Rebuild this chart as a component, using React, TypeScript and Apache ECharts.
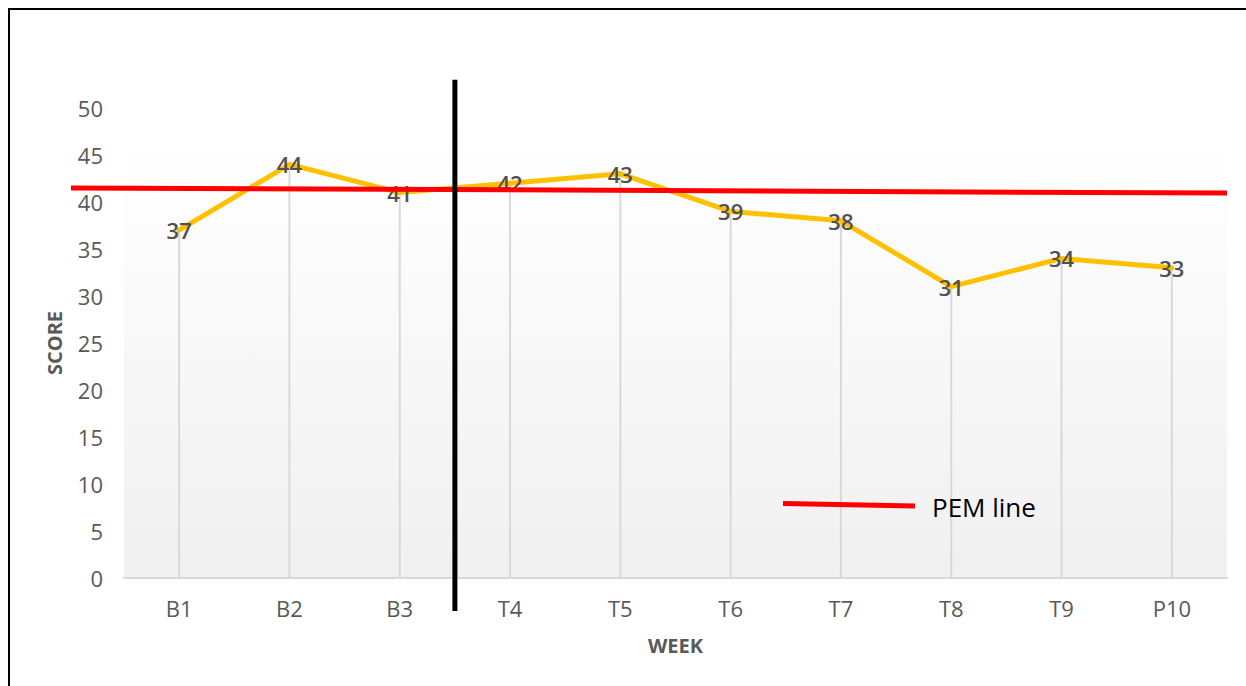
import React, { useEffect, useRef } from 'react';
import * as echarts from 'echarts';

const weeks = ['B1', 'B2', 'B3', 'T4', 'T5', 'T6', 'T7', 'T8', 'T9', 'P10'];
const scores = [37, 44, 41, 42, 43, 39, 38, 31, 34, 33];
const yMin = 0;
const yMax = 50;
const yStep = 5;
const pemValues = [41.5, 40.95]; // PEM line value at its left and right ends
const dividerValues = [53, -3.5]; // phase divider top and bottom (in score units)
const pemLabel = 'PEM line';
const xTitle = 'WEEK';
const yTitle = 'SCORE';

const FONT = '"Open Sans", "Noto Sans", sans-serif';

export default function App() {
  const ref = useRef<HTMLDivElement>(null);
  useEffect(() => {
    if (!ref.current) return;
    const chart = echarts.init(ref.current, null, { renderer: 'svg' });
    const gridLeft = 124;
    const gridRight = 19;
    const gridTop = 108;
    const gridBottom = 108;
    chart.setOption({
      animation: false,
      textStyle: { fontFamily: FONT },
      grid: {
        left: gridLeft,
        right: gridRight,
        top: gridTop,
        bottom: gridBottom,
        show: true,
        borderWidth: 0,
        backgroundColor: new echarts.graphic.LinearGradient(0, 0, 0, 1, [
          { offset: 0, color: '#ffffff' },
          { offset: 0.13, color: '#fefefe' },
          { offset: 1, color: '#f0f0f0' },
        ]),
      },
      xAxis: {
        type: 'category',
        data: weeks,
        name: xTitle,
        nameLocation: 'middle',
        nameGap: 57,
        nameTextStyle: { color: '#595959', fontSize: 20, fontWeight: 'bold', fontFamily: FONT },
        axisLine: { lineStyle: { color: '#d9d9d9', width: 2 } },
        axisTick: { show: false },
        axisLabel: { color: '#595959', fontSize: 22, margin: 19, fontFamily: FONT },
        splitLine: { show: false },
      },
      yAxis: {
        type: 'value',
        min: yMin,
        max: yMax,
        interval: yStep,
        name: yTitle,
        nameLocation: 'middle',
        nameGap: 60,
        nameTextStyle: { color: '#595959', fontSize: 20, fontWeight: 'bold', fontFamily: FONT },
        axisLine: { show: false },
        axisTick: { show: false },
        splitLine: { show: false },
        axisLabel: { color: '#595959', fontSize: 22, margin: 21, fontFamily: FONT },
      },
      series: [
        {
          type: 'bar',
          data: scores,
          barWidth: 2,
          silent: true,
          itemStyle: { color: '#d9d9d9' },
          z: 1,
        },
        {
          type: 'line',
          data: scores,
          symbol: 'circle',
          symbolSize: 5,
          itemStyle: { color: '#ffc000' },
          lineStyle: { color: '#ffc000', width: 5 },
          label: {
            show: true,
            position: 'inside',
            color: '#505050',
            fontSize: 22,
            fontWeight: 600,
            fontFamily: FONT,
          },
          z: 3,
        },
      ],
    });

    const yPix = (v: number) => chart.convertToPixel({ yAxisIndex: 0 }, v) as number;
    const xPix = (i: number) => chart.convertToPixel({ xAxisIndex: 0 }, weeks[i]) as number;
    const plotRight = 1246 - gridRight;
    const dividerX = (xPix(2) + xPix(3)) / 2;

    chart.setOption({
      graphic: [
        {
          type: 'rect',
          shape: { x: 9, y: 9, width: 1400, height: 900 },
          style: { fill: 'none', stroke: '#000', lineWidth: 2 },
          silent: true,
        },
        {
          type: 'line',
          shape: { x1: 71, y1: yPix(pemValues[0]), x2: plotRight, y2: yPix(pemValues[1]) },
          style: { stroke: '#ff0000', lineWidth: 5 },
          z: 10,
        },
        {
          type: 'line',
          shape: { x1: dividerX, y1: yPix(dividerValues[0]), x2: dividerX, y2: yPix(dividerValues[1]) },
          style: { stroke: '#000000', lineWidth: 5 },
          z: 11,
        },
        {
          type: 'line',
          shape: { x1: 783, y1: 503.5, x2: 915, y2: 506 },
          style: { stroke: '#ff0000', lineWidth: 5 },
          z: 10,
        },
        {
          type: 'text',
          x: 932,
          y: 507,
          style: {
            text: pemLabel,
            fill: '#000000',
            fontSize: 26,
            fontFamily: FONT,
            verticalAlign: 'middle',
            align: 'left',
          },
          z: 10,
        },
      ],
    });
    return () => chart.dispose();
  }, []);
  return (
    <div
      ref={ref}
      style={{ position: 'fixed', left: 0, top: 0, width: 1246, height: 686, background: '#fff' }}
    />
  );
}
